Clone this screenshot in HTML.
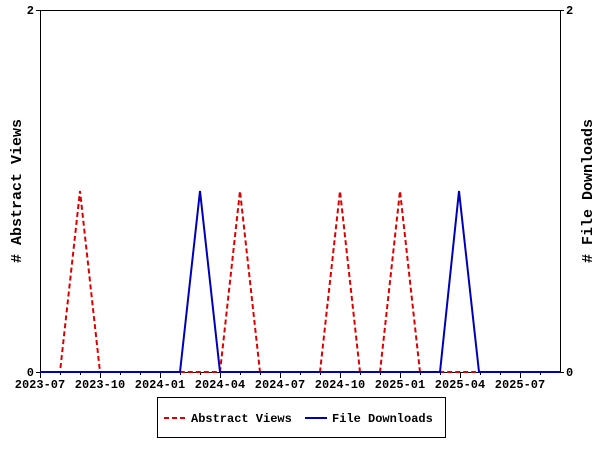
<!DOCTYPE html>
<html><head><style>body{margin:0;background:#fff}svg text{font-family:"Liberation Mono",monospace;font-weight:bold;font-size:12px}</style></head>
<body><svg width="600" height="450" viewBox="0 0 600 450">
<rect x="0" y="0" width="600" height="450" fill="#fff"/>
<rect x="40.5" y="10.5" width="520" height="362" fill="none" stroke="#000"/>
<g stroke="#000">
<line x1="36" y1="10.5" x2="40" y2="10.5"/><line x1="36" y1="372.5" x2="40" y2="372.5"/>
<line x1="560" y1="10.5" x2="564" y2="10.5"/><line x1="560" y1="372.5" x2="564" y2="372.5"/>
<path d="M40.5 372v6M100.5 372v6M160.5 372v6M220.5 372v6M280.5 372v6M340.5 372v6M400.5 372v6M460.5 372v6M520.5 372v6" />
<path d="M60.5 372v3M80.5 372v3M120.5 372v3M140.5 372v3M180.5 372v3M200.5 372v3M240.5 372v3M260.5 372v3M300.5 372v3M320.5 372v3M360.5 372v3M380.5 372v3M420.5 372v3M440.5 372v3M480.5 372v3M500.5 372v3M540.5 372v3" />
</g>
<g text-anchor="middle">
<text x="40" y="388">2023-07</text><text x="100" y="388">2023-10</text><text x="160" y="388">2024-01</text><text x="220" y="388">2024-04</text><text x="280" y="388">2024-07</text><text x="340" y="388">2024-10</text><text x="400" y="388">2025-01</text><text x="460" y="388">2025-04</text><text x="520" y="388">2025-07</text>
</g>
<text x="34" y="14" text-anchor="end">2</text><text x="34" y="376" text-anchor="end">0</text>
<text x="566" y="14">2</text><text x="566" y="376">0</text>
<text transform="translate(21,191) rotate(-90)" text-anchor="middle" style="font-size:15px">#  Abstract Views</text>
<text transform="translate(592,191) rotate(-90)" text-anchor="middle" style="font-size:15px">#  File Downloads</text>
<polyline fill="none" stroke="#d00" stroke-width="2" stroke-dasharray="5,3" points="40,372 60,372 80,191 100,372 220,372 240,191 260,372 320,372 340,191 360,372 380,372 400,191 420,372 560,372"/>
<polyline fill="none" stroke="#00b" stroke-width="2" points="40,372 180,372 200,191 220,372 440,372 459,191 479,372 560,372"/>
<rect x="157.5" y="397.5" width="288" height="40" fill="#fff" stroke="#000"/>
<line x1="164" y1="418" x2="186" y2="418" stroke="#d00" stroke-width="2" stroke-dasharray="5,3"/>
<text x="191" y="422">Abstract Views</text>
<line x1="305" y1="418" x2="327" y2="418" stroke="#00b" stroke-width="2"/>
<text x="332" y="422">File Downloads</text>
</svg></body></html>
